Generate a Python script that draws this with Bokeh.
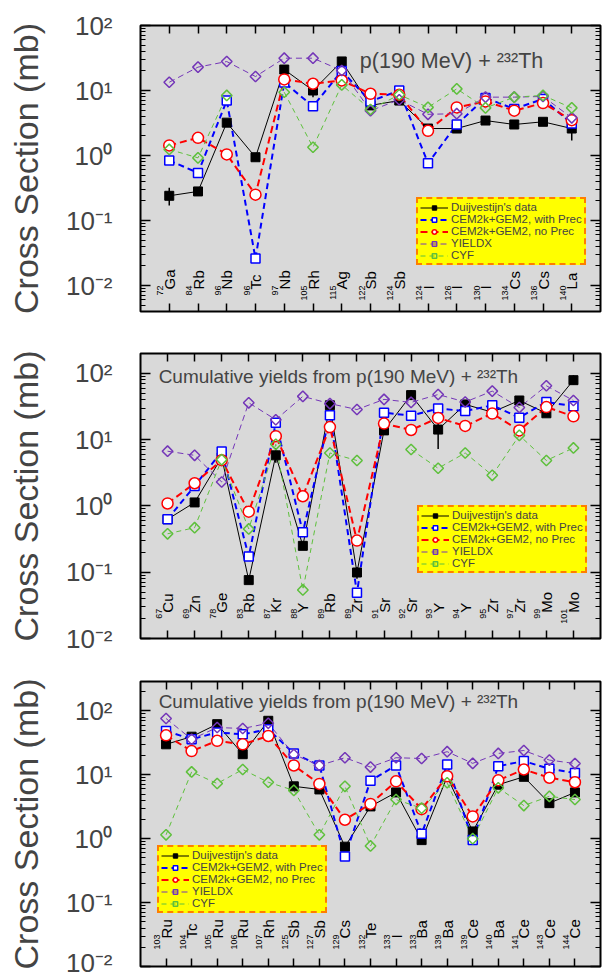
import math
import numpy as np
from bokeh.plotting import figure
from bokeh.models import (Range1d, LogAxis, LinearAxis, FixedTicker, ColumnDataSource,
                          Legend, LegendItem, Label)
from bokeh.layouts import column
from bokeh.embed import file_html
from bokeh.resources import INLINE
from bokeh.core.properties import value

NaN = float("nan")
FONT = "Liberation Sans"
PURPLE = "#7436b8"
GREEN = "#5ec03c"

# ---------------- panel 1 ----------------
p1_mass = [72, 84, 96, 96, 97, 105, 115, 122, 124, 124, 126, 130, 134, 136, 140]
p1_elem = ["Ga", "Rb", "Nb", "Tc", "Nb", "Rh", "Ag", "Sb", "Sb", "I", "I", "I", "Cs", "Cs", "La"]
p1_data = [0.24, 0.28, 3.2, 0.94, 21, 10, 28, 5.9, 7.0, 2.6, 2.6, 3.45, 3.0, 3.3, 2.6]
p1_err_lo = [0.17, NaN, NaN, NaN, NaN, 7.9, 25, NaN, NaN, NaN, NaN, NaN, NaN, NaN, 1.7]
p1_err_hi = [0.32, NaN, NaN, NaN, NaN, 10.5, 32.5, NaN, NaN, NaN, NaN, NaN, NaN, NaN, 3.1]
p1_with = [0.84, 0.54, 7.0, 0.026, 13.3, 5.7, 20, 6.8, 10, 0.76, 3.0, 7.7, 5.2, 7.4, 3.1]
p1_nopr = [1.43, 1.87, 1.04, 0.25, 14.8, 12.7, 14.3, 8.9, 8.6, 2.4, 5.5, 6.8, 4.9, 6.4, 3.5]
p1_yieldx = [13.4, 22.9, 27.9, 16.4, 31.4, 31.4, 20.3, 4.9, 7.2, 4.3, 4.4, 7.9, 7.9, 8.1, 3.8]
p1_cyf = [1.24, 0.92, 8.4, NaN, 9.4, 1.34, 12.2, 5.1, 8.6, 5.5, 10.6, 5.4, 7.9, 8.4, 5.4]

# ---------------- panel 2 ----------------
p2_mass = [67, 69, 78, 83, 87, 88, 89, 89, 91, 92, 93, 94, 95, 97, 99, 101]
p2_elem = ["Cu", "Zn", "Ge", "Rb", "Kr", "Y", "Rb", "Zr", "Sr", "Sr", "Y", "Y", "Zr", "Zr", "Mo", "Mo"]
p2_data = [0.63, 1.13, 5.4, 0.076, 5.8, 0.25, 33, 0.099, 13.8, 47, 14.2, 34, 26, 39, 25, 79]
p2_err_lo = [NaN, NaN, NaN, NaN, 4.5, NaN, NaN, 0.08, NaN, 40, 7.2, 30, NaN, 34, NaN, 68]
p2_err_hi = [NaN, NaN, NaN, NaN, 7.5, NaN, NaN, 0.12, NaN, 56, 17.8, 38, NaN, 45, NaN, 94]
p2_with = [0.63, 2.0, 6.6, 0.172, 18, 0.40, 23.4, 0.049, 25.5, 23, 29.5, 27, 33, 21.5, 37, 32]
p2_nopr = [1.09, 2.2, 4.9, 0.82, 11.3, 1.4, 15.5, 0.30, 17.5, 14, 21.3, 16.1, 24.8, 13.8, 31, 22.5]
p2_yieldx = [6.7, 5.8, 2.3, 36, 20, 45, 35, 28.5, 40.5, 36.5, 48, 37, 54, 30.5, 65, 39]
p2_cyf = [0.38, 0.47, 5.0, 0.45, 8.5, 0.054, 6.3, 4.85, NaN, 7.1, 3.7, 6.3, 2.9, 11.6, 4.85, 7.5]

# ---------------- panel 3 ----------------
p3_mass = [103, 104, 105, 106, 107, 125, 127, 129, 132, 133, 133, 139, 139, 140, 141, 143, 144]
p3_elem = ["Ru", "Tc", "Ru", "Ru", "Rh", "Sb", "Sb", "Cs", "Te", "I", "Ba", "Ba", "Ce", "Ba", "Ce", "Ce", "Ce"]
p3_data = [30, 39.5, 62, 21, 70, 6.6, 5.9, 0.75, 3.2, 5.3, 0.95, 9.3, 1.3, 7.0, 9.3, 3.6, 5.3]
p3_err_lo = [NaN, NaN, 57, NaN, 63, NaN, NaN, 0.66, NaN, NaN, NaN, NaN, 1.1, NaN, NaN, NaN, NaN]
p3_err_hi = [NaN, NaN, 68, NaN, 77, NaN, NaN, 0.85, NaN, NaN, NaN, NaN, 1.5, NaN, NaN, NaN, NaN]
p3_with = [48.5, 36, 46, 43, 51.5, 21.6, 14, 0.525, 8.1, 14, 1.19, 14.5, 0.95, 13.6, 16.4, 12.4, 10.7]
p3_nopr = [41.5, 23.5, 34, 30, 40.5, 14, 7.2, 1.98, 3.5, 7.9, 2.9, 9.5, 2.23, 8.2, 12.1, 9.0, 7.65]
p3_yieldx = [76, 36, 55, 53, 64, 20.8, 14, 18.5, 13.2, 18.5, 18, 23, 15.1, 21.6, 24, 17, 15]
p3_cyf = [1.15, 11.1, 7.3, 12.1, 7.65, 5.7, 1.15, 6.6, 0.77, 4.1, 3.0, 7.5, 1.0, 6.25, 3.3, 4.6, 4.1]

legend_labels = ["Duijvestijn's data", "CEM2k+GEM2, with Prec", "CEM2k+GEM2, no Prec", "YIELDX", "CYF"]
y_label = "Cross Section (mb)"
title_top = "p(190 MeV) + \u00b2\u00b3\u00b2Th"
title_cum = "Cumulative yields from p(190 MeV) + \u00b2\u00b3\u00b2Th"

DECADES = [0.01, 0.1, 1.0, 10.0, 100.0]
MINOR = [m * d for d in [0.001, 0.01, 0.1, 1.0, 10.0, 100.0] for m in range(2, 10)]
YTICK_LABELS = {0.01: "10\u207b\u00b2", 0.1: "10\u207b\u00b9", 1.0: "10\u2070",
                10.0: "10\u00b9", 100.0: "10\u00b2"}


def style_axis(ax, tin, minor_in):
    ax.axis_line_color = None
    ax.major_tick_in = tin
    ax.major_tick_out = 0
    ax.minor_tick_in = minor_in
    ax.minor_tick_out = 0
    ax.major_tick_line_color = "black"
    ax.major_tick_line_width = 1.5
    ax.minor_tick_line_color = "black"
    ax.minor_tick_line_width = 1.2


def panel(mass, elem, data, elo, ehi, wp, npr, yx, cyf, ylog_min, ylog_max, height,
          btop, bbot, leg_xy, title, title_x, title_ylog, title_size, lab_ylog):
    n = len(elem)
    xs = list(range(1, n + 1))
    p = figure(width=604, height=height, x_range=Range1d(0, n + 1),
               y_range=Range1d(10 ** ylog_min, 10 ** ylog_max), y_axis_type="log",
               output_backend="svg", toolbar_location=None,
               min_border_left=140, min_border_right=4, min_border_top=btop,
               min_border_bottom=bbot, background_fill_color="#d9d9d9",
               border_fill_color="white", outline_line_color="black", outline_line_width=2)
    p.grid.visible = False

    blank = {x: "" for x in xs}
    xa = p.xaxis[0]
    xa.ticker = FixedTicker(ticks=xs, minor_ticks=[])
    xa.major_label_overrides = blank
    xa.major_label_standoff = 0
    style_axis(xa, 8, 0)
    xt = LinearAxis(ticker=FixedTicker(ticks=xs, minor_ticks=[]), major_label_overrides=blank,
                    major_label_standoff=0)
    style_axis(xt, 8, 0)
    p.add_layout(xt, "above")

    ya = p.yaxis[0]
    ya.ticker = FixedTicker(ticks=DECADES, minor_ticks=MINOR)
    ya.major_label_overrides = YTICK_LABELS
    ya.major_label_text_font = FONT
    ya.major_label_text_font_size = "26px"
    ya.major_label_standoff = 28
    ya.axis_label = y_label
    ya.axis_label_text_font = FONT
    ya.axis_label_text_font_size = "34px"
    ya.axis_label_text_font_style = "normal"
    ya.axis_label_standoff = 18
    style_axis(ya, 10, 5)
    yr = LogAxis(ticker=FixedTicker(ticks=DECADES, minor_ticks=MINOR),
                 major_label_overrides={d: "" for d in DECADES}, major_label_standoff=0)
    style_axis(yr, 10, 5)
    p.add_layout(yr, "right")

    src = ColumnDataSource(dict(x=np.array(xs, dtype=float), d=np.array(data, dtype=float),
                                lo=np.array(elo, dtype=float), hi=np.array(ehi, dtype=float),
                                b=np.array(wp, dtype=float), r=np.array(npr, dtype=float),
                                pu=np.array(yx, dtype=float), g=np.array(cyf, dtype=float)))
    p.segment(x0="x", y0="lo", x1="x", y1="hi", source=src, line_color="black", line_width=1.5)
    l_d = p.line("x", "d", source=src, line_color="black", line_width=1)
    l_b = p.line("x", "b", source=src, line_color="blue", line_width=2, line_dash="6 4")
    l_r = p.line("x", "r", source=src, line_color="red", line_width=2, line_dash="7 4")
    l_p = p.line("x", "pu", source=src, line_color=PURPLE, line_width=1, line_dash="6 4")
    l_g = p.line("x", "g", source=src, line_color=GREEN, line_width=1, line_dash="5 4")
    s_d = p.scatter("x", "d", source=src, marker="square", size=9, fill_color="black",
                    line_color="black")
    s_b = p.scatter("x", "b", source=src, marker="square", size=9, fill_color="white",
                    line_color="blue", line_width=1.5)
    s_r = p.scatter("x", "r", source=src, marker="circle", size=11, fill_color="white",
                    line_color="red", line_width=1.5)
    s_p = p.scatter("x", "pu", source=src, marker="square", angle=math.pi / 4, size=7.5,
                    fill_color=None, line_color=PURPLE, line_width=1.5)
    s_g = p.scatter("x", "g", source=src, marker="square", angle=math.pi / 4, size=7.5,
                    fill_color=None, line_color=GREEN, line_width=1.5)

    # isotope labels
    lab = ColumnDataSource(dict(x=xs, y=[10 ** lab_ylog] * n, ny=[10 ** (lab_ylog + 0.06)] * n,
                                el=elem, ms=[str(m) for m in mass]))
    p.text("x", "y", text="el", source=lab, angle=math.pi / 2, text_font=value(FONT),
           text_font_size="15px", text_align="left", text_baseline="middle", text_color="black")
    p.text("x", "ny", text="ms", source=lab, angle=math.pi / 2, text_font=value(FONT),
           text_font_size="9px", text_align="right", text_baseline="middle", text_color="black",
           x_offset=-9)

    p.add_layout(Label(x=title_x, y=10 ** title_ylog, text=title, text_font=FONT,
                       text_font_size=title_size, text_baseline="middle", text_align="left"))

    items = [LegendItem(label=legend_labels[0], renderers=[l_d, s_d]),
             LegendItem(label=legend_labels[1], renderers=[l_b, s_b]),
             LegendItem(label=legend_labels[2], renderers=[l_r, s_r]),
             LegendItem(label=legend_labels[3], renderers=[l_p, s_p]),
             LegendItem(label=legend_labels[4], renderers=[l_g, s_g])]
    leg = Legend(items=items, location=leg_xy, background_fill_color="#ffff00",
                 background_fill_alpha=1, border_line_color="red", border_line_width=2,
                 border_line_dash="6 3", label_text_font=FONT, label_text_font_size="11.5px",
                 label_height=11, glyph_height=11, glyph_width=28, spacing=0, padding=2,
                 margin=0, label_standoff=3)
    p.add_layout(leg)
    return p


p1 = panel(p1_mass, p1_elem, p1_data, p1_err_lo, p1_err_hi, p1_with, p1_nopr, p1_yieldx, p1_cyf,
           -2.4, 2.0, 336, 25, 25, (276, 46), title_top, 7.63, 1.46, "21.5px", -2.06)
p2 = panel(p2_mass, p2_elem, p2_data, p2_err_lo, p2_err_hi, p2_with, p2_nopr, p2_yieldx, p2_cyf,
           -2.0, 2.3, 328, 17, 26, (277, 65), title_cum, 0.67, 1.96, "19px", -1.61)
p3 = panel(p3_mass, p3_elem, p3_data, p3_err_lo, p3_err_hi, p3_with, p3_nopr, p3_yieldx, p3_cyf,
           -2.0, 2.46, 313, 17, 11, (17, 53), title_cum, 0.71, 2.14, "19px", -1.56)

layout = column(p1, p2, p3, spacing=0)
open("out.html", "w").write(file_html(layout, INLINE))
